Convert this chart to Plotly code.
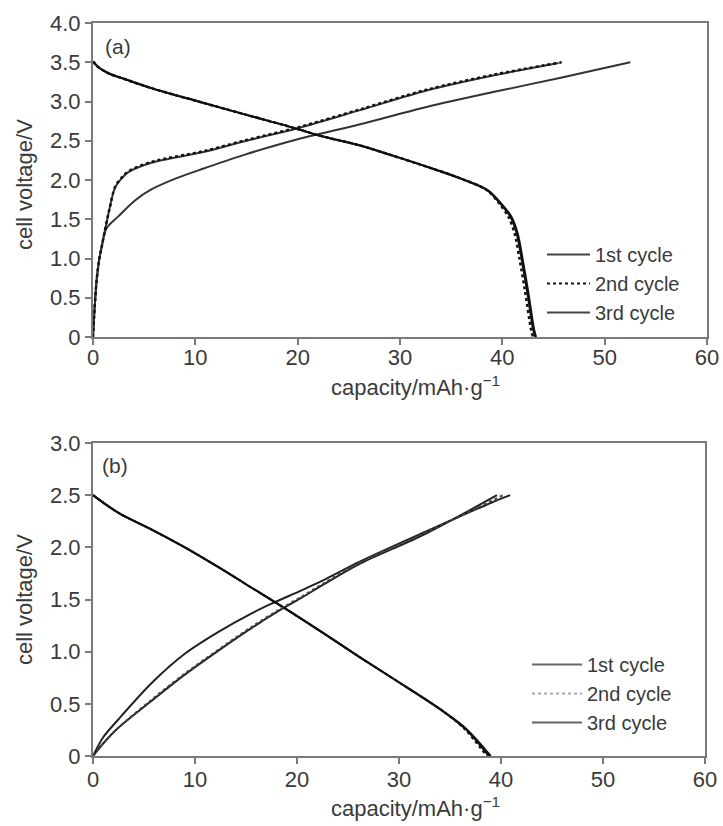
import plotly.graph_objects as go

# ---------------- data: panel (a) ----------------
a_dis_x = [0, 0.5, 1.5, 3, 5.7, 10.3, 15, 20, 22, 26.1, 29.3, 32.6, 35.9, 38.5, 39.8, 40.8, 41.4, 41.9, 42.4, 43.0, 43.2]
a_dis_y = [3.51, 3.44, 3.36, 3.29, 3.17, 3.00, 2.83, 2.65, 2.57, 2.44, 2.31, 2.17, 2.02, 1.87, 1.70, 1.53, 1.32, 0.98, 0.60, 0.10, 0]
a_dis2_x = [0, 0.5, 1.5, 3, 5.7, 10.3, 15, 20, 22, 26.1, 29.3, 32.6, 35.9, 38.5, 39.7, 40.6, 41.2, 41.7, 42.2, 42.8, 43.0]
a_dis3_x = [0, 0.5, 1.5, 3, 5.7, 10.3, 15, 20, 22, 26.1, 29.3, 32.6, 35.9, 38.6, 39.9, 40.9, 41.5, 42.0, 42.5, 43.1, 43.3]

a_ch1_x = [0, 0.15, 0.36, 0.6, 0.85, 1.3, 2.5, 4.1, 5.7, 8.3, 10.9, 15, 20, 26.1, 32.6, 39.1, 45.6, 52.5]
a_ch1_y = [0, 0.35, 0.73, 0.98, 1.15, 1.38, 1.54, 1.74, 1.88, 2.03, 2.15, 2.33, 2.52, 2.71, 2.93, 3.12, 3.30, 3.50]
a_ch2_x = [0, 0.15, 0.36, 0.6, 0.85, 1.17, 1.66, 2.15, 2.8, 3.45, 5.7, 10.9, 15, 20, 26.1, 32.6, 39.1, 45.8]
a_ch2_y = [0, 0.35, 0.73, 0.98, 1.15, 1.36, 1.66, 1.91, 2.03, 2.11, 2.23, 2.37, 2.51, 2.67, 2.90, 3.15, 3.34, 3.50]
a_ch3_x = [0, 0.15, 0.36, 0.6, 0.85, 1.17, 1.66, 2.15, 2.8, 3.45, 5.7, 10.9, 15, 20, 26.1, 32.6, 39.1, 45.5]
a_ch3_y = [0, 0.35, 0.73, 0.98, 1.15, 1.36, 1.66, 1.90, 2.02, 2.10, 2.22, 2.36, 2.50, 2.66, 2.89, 3.14, 3.33, 3.49]

# ---------------- data: panel (b) ----------------
b_dis_x = [0, 2.5, 5.75, 9, 12.3, 15.6, 18.9, 22.7, 26.1, 30.1, 34.3, 36.5, 38.8]
b_dis_y = [2.50, 2.33, 2.17, 2.00, 1.81, 1.61, 1.41, 1.17, 0.95, 0.70, 0.43, 0.26, 0]
b_dis2_x = [0, 2.5, 5.75, 9, 12.3, 15.6, 18.9, 22.7, 26.1, 30.1, 34.3, 36.4, 38.6]
b_dis3_x = [0, 2.5, 5.75, 9, 12.3, 15.6, 18.9, 22.7, 26.1, 30.1, 34.3, 36.6, 39.0]

b_ch1_x = [0, 1, 2.48, 5.75, 9, 12.3, 15.6, 17.5, 20.5, 22.7, 26.1, 32.6, 39.1, 40.9]
b_ch1_y = [0, 0.18, 0.35, 0.70, 0.98, 1.19, 1.37, 1.46, 1.59, 1.69, 1.86, 2.15, 2.43, 2.50]
b_ch2_x = [0, 1, 2.48, 5.75, 9, 12.3, 15.6, 18.2, 20.5, 22.7, 26.1, 32.6, 40.2]
b_ch2_y = [0, 0.12, 0.27, 0.54, 0.79, 1.02, 1.24, 1.40, 1.53, 1.66, 1.85, 2.14, 2.50]
b_ch3_x = [0, 1, 2.48, 5.75, 9, 12.3, 15.6, 18.2, 20.5, 22.7, 26.1, 32.6, 39.6]
b_ch3_y = [0, 0.12, 0.27, 0.53, 0.78, 1.01, 1.23, 1.39, 1.52, 1.65, 1.84, 2.13, 2.50]

cycle_names = ["1st cycle", "2nd cycle", "3rd cycle"]
x_ticks = [0, 10, 20, 30, 40, 50, 60]
a_y_ticks = [0, 0.5, 1.0, 1.5, 2.0, 2.5, 3.0, 3.5, 4.0]
b_y_ticks = [0, 0.5, 1.0, 1.5, 2.0, 2.5, 3.0]

W, H = 723, 826
FONT = "Liberation Sans, Arial, sans-serif"
TXT = "#3a3a3a"
AX = "#7a7a7a"
LINE = "#111111"

fig = go.Figure()

def add(x, y, xa, ya, dash, color, width=2):
    fig.add_trace(go.Scatter(
        x=x, y=y, mode="lines", xaxis=xa, yaxis=ya, hoverinfo="skip",
        line=dict(color=color, width=width, dash=dash, shape="spline", smoothing=0.9),
        showlegend=False))

def legend_entry(name, xa, ya, dash, color, legend):
    fig.add_trace(go.Scatter(x=[None], y=[None], mode="lines", xaxis=xa, yaxis=ya,
                             name=name, line=dict(color=color, width=2, dash=dash),
                             showlegend=True, legend=legend))

# panel (a)
add(a_ch1_x, a_ch1_y, "x", "y", "solid", "#333333")
add(a_dis_x, a_dis_y, "x", "y", "solid", LINE)
add(a_ch3_x, a_ch3_y, "x", "y", "solid", "#333333")
add(a_dis3_x, a_dis_y, "x", "y", "solid", LINE)
add(a_ch2_x, a_ch2_y, "x", "y", "dot", LINE, 2.5)
add(a_dis2_x, a_dis_y, "x", "y", "dot", LINE, 2.5)
legend_entry(cycle_names[0], "x", "y", "solid", "#444444", "legend")
legend_entry(cycle_names[1], "x", "y", "dot", "#111111", "legend")
legend_entry(cycle_names[2], "x", "y", "solid", "#444444", "legend")

# panel (b)
add(b_ch1_x, b_ch1_y, "x2", "y2", "solid", "#222222")
add(b_dis_x, b_dis_y, "x2", "y2", "solid", LINE)
add(b_ch3_x, b_ch3_y, "x2", "y2", "solid", "#222222")
add(b_dis3_x, b_dis_y, "x2", "y2", "solid", LINE)
add(b_ch2_x, b_ch2_y, "x2", "y2", "dot", "#444444")
add(b_dis2_x, b_dis_y, "x2", "y2", "dot", LINE)
legend_entry(cycle_names[0], "x2", "y2", "solid", "#666666", "legend2")
legend_entry(cycle_names[1], "x2", "y2", "dot", "#aaaaaa", "legend2")
legend_entry(cycle_names[2], "x2", "y2", "solid", "#666666", "legend2")

def px_x(p):
    return p / W

def px_y(p):
    return 1 - p / H

axis_common = dict(showline=True, linecolor=AX, linewidth=2, mirror=True,
                   ticks="outside", ticklen=6, tickwidth=1.5, tickcolor=AX,
                   showgrid=False, zeroline=False, automargin=False,
                   tickfont=dict(family=FONT, size=22, color=TXT))

fig.update_layout(
    template="none",
    width=W, height=H,
    margin=dict(l=0, r=0, t=0, b=0),
    paper_bgcolor="white", plot_bgcolor="white",
    font=dict(family=FONT, size=22, color=TXT),
    xaxis=dict(domain=[px_x(93), px_x(707)], anchor="y", range=[0, 60],
               tickvals=x_ticks, ticktext=[str(v) for v in x_ticks],
               ticklabelstandoff=-6, **axis_common),
    yaxis=dict(domain=[px_y(337), px_y(23)], anchor="x", range=[0, 4],
               tickvals=a_y_ticks, ticktext=["0" if v == 0 else f"{v:.1f}" for v in a_y_ticks],
               **axis_common),
    xaxis2=dict(domain=[px_x(93), px_x(705)], anchor="y2", range=[0, 60],
                tickvals=x_ticks, ticktext=[str(v) for v in x_ticks],
                ticklabelstandoff=-3, **axis_common),
    yaxis2=dict(domain=[px_y(756), px_y(443)], anchor="x2", range=[0, 3],
                tickvals=b_y_ticks, ticktext=["0" if v == 0 else f"{v:.1f}" for v in b_y_ticks],
                **axis_common),
    legend=dict(x=px_x(542), y=px_y(235), xanchor="left", yanchor="top",
                bgcolor="rgba(0,0,0,0)", borderwidth=0, itemwidth=43,
                font=dict(family=FONT, size=20, color=TXT), tracegroupgap=0,
                traceorder="normal", itemclick=False),
    legend2=dict(x=px_x(527), y=px_y(645), xanchor="left", yanchor="top",
                 bgcolor="rgba(0,0,0,0)", borderwidth=0, itemwidth=50,
                 font=dict(family=FONT, size=20, color=TXT), tracegroupgap=0,
                 traceorder="normal", itemclick=False),
)

ann = []
for label, xc, yc in [("(a)", 103, 46), ("(b)", 100, 465)]:
    ann.append(dict(text=label, x=px_x(xc), y=px_y(yc), xref="paper", yref="paper",
                    xanchor="left", yanchor="middle", showarrow=False,
                    font=dict(family=FONT, size=21, color=TXT)))
for yc in [386, 807]:
    ann.append(dict(text="capacity/mAh·g<sup>−1</sup>", x=px_x(416), y=px_y(yc),
                    xref="paper", yref="paper", xanchor="center", yanchor="middle",
                    showarrow=False, font=dict(family=FONT, size=22, color=TXT)))
for yc in [185, 600]:
    ann.append(dict(text="cell voltage/V", x=px_x(24), y=px_y(yc), xref="paper", yref="paper",
                    xanchor="center", yanchor="middle", textangle=-90, showarrow=False,
                    font=dict(family=FONT, size=22, color=TXT)))
fig.update_layout(annotations=ann)

fig.write_html("out.html")
